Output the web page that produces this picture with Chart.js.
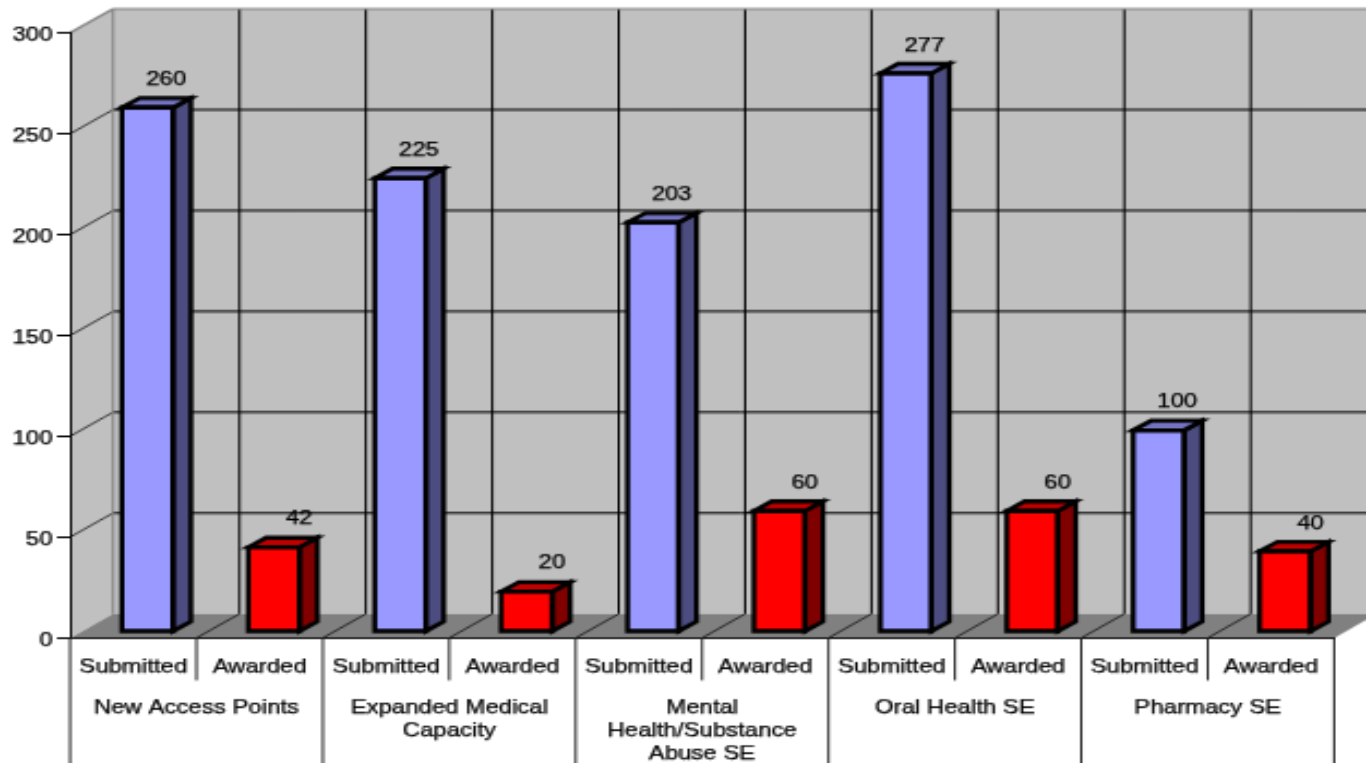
<!DOCTYPE html>
<html>
<head>
<meta charset="utf-8">
<title>Applications submitted and awarded</title>
<script src="https://cdn.jsdelivr.net/npm/chart.js@4"></script>
<style>
  html, body { margin: 0; padding: 0; background: #fff; width: 1366px; height: 763px; overflow: hidden; }
  #wrap { width: 1366px; height: 763px; overflow: hidden; }
  /* the reference is a small picture blown up unevenly, so draw small and stretch */
  #chart { display: block; transform-origin: 0 0; transform: scale(2.182, 1.770); }
</style>
</head>
<body>
<div id="wrap"><canvas id="chart" width="626" height="431"></canvas></div>
<script>
const groups = ['New Access Points', ['Expanded Medical', 'Capacity'], ['Mental', 'Health/Substance', 'Abuse SE'], 'Oral Health SE', 'Pharmacy SE'];
const seriesNames = ['Submitted', 'Awarded'];
const submitted = [260, 225, 203, 277, 100];
const awarded = [42, 20, 60, 60, 40];
const yTicks = [0, 50, 100, 150, 200, 250, 300];

const labels = groups.flatMap(() => seriesNames);
const values = submitted.flatMap((v, i) => [v, awarded[i]]);

const COLORS = {
  Submitted: { front: '#9999ff', side: '#4c4c80', top: '#7373bf' },
  Awarded: { front: '#ff0000', side: '#800000', top: '#bf0000' }
};
const FONT = { family: '"Liberation Sans", Arial, sans-serif', size: 11 };
const TEXT_STROKE = 0.25;               // the reference text is a little heavy
const DEPTH_X = 19.7, DEPTH_Y = 13.6;   // walls
const BAR_X = 6.5, BAR_Y = 3.4;         // bar front sits this far into the floor
const BAR_DX = 8.2, BAR_DY = 5.4;       // bar depth

function line(ctx, x1, y1, x2, y2, color, width) {
  ctx.strokeStyle = color;
  ctx.lineWidth = width;
  ctx.beginPath();
  ctx.moveTo(x1, y1);
  ctx.lineTo(x2, y2);
  ctx.stroke();
}

function poly(ctx, pts, fill) {
  ctx.fillStyle = fill;
  ctx.strokeStyle = '#000';
  ctx.lineWidth = 2.3;
  ctx.lineJoin = 'miter';
  ctx.beginPath();
  pts.forEach((p, i) => i ? ctx.lineTo(p[0], p[1]) : ctx.moveTo(p[0], p[1]));
  ctx.closePath();
  if (fill) ctx.fill();
  ctx.stroke();
}

const box3d = {
  id: 'box3d',
  beforeDraw(chart) {
    const ctx = chart.ctx, { x, y } = chart.scales;
    const l = x.left, r = x.right, t = y.getPixelForValue(300), b = y.getPixelForValue(0);
    const bx = l + DEPTH_X, far = r + DEPTH_X;
    const step = (r - l) / labels.length;
    ctx.save();
    // walls and floor
    ctx.fillStyle = '#c0c0c0';
    ctx.beginPath();
    ctx.moveTo(l, b); ctx.lineTo(l, t); ctx.lineTo(bx, t - DEPTH_Y);
    ctx.lineTo(far, t - DEPTH_Y); ctx.lineTo(far, b - DEPTH_Y); ctx.lineTo(bx, b - DEPTH_Y);
    ctx.closePath();
    ctx.fill();
    ctx.fillStyle = '#808080';
    ctx.beginPath();
    ctx.moveTo(l, b); ctx.lineTo(bx, b - DEPTH_Y); ctx.lineTo(far, b - DEPTH_Y); ctx.lineTo(r, b);
    ctx.closePath();
    ctx.fill();
    // grid on the walls
    yTicks.slice(1, -1).forEach(v => {
      const py = y.getPixelForValue(v);
      line(ctx, l, py, bx, py - DEPTH_Y, '#000', 0.7);
      line(ctx, bx, py - DEPTH_Y, far, py - DEPTH_Y, '#000', 1);
    });
    for (let i = 1; i < labels.length; i++) {
      const px = l + i * step;
      line(ctx, px, b, px + DEPTH_X, b - DEPTH_Y, '#000', 0.7);
      line(ctx, px + DEPTH_X, t - DEPTH_Y, px + DEPTH_X, b - DEPTH_Y, '#000', 1);
    }
    line(ctx, bx, t - DEPTH_Y, bx, b - DEPTH_Y, '#808080', 1);
    line(ctx, bx, t - DEPTH_Y, far, t - DEPTH_Y, '#808080', 1.2);
    line(ctx, l, t, bx, t - DEPTH_Y, '#808080', 1.2);
    ctx.restore();
  },
  beforeDatasetsDraw(chart) {
    chart.ctx.save();
    chart.ctx.translate(BAR_X, -BAR_Y);
  },
  afterDatasetsDraw(chart) {
    const ctx = chart.ctx, { x } = chart.scales;
    ctx.restore();
    // outlines, top and side of every bar, then the value
    chart.getDatasetMeta(0).data.forEach((bar, i) => {
      const p = bar.getProps(['x', 'y', 'base', 'width']);
      const c = COLORS[labels[i]];
      const x0 = p.x - p.width / 2 + BAR_X, x1 = p.x + p.width / 2 + BAR_X;
      const y0 = p.y - BAR_Y, y1 = p.base - BAR_Y;
      poly(ctx, [[x1, y0], [x1 + BAR_DX, y0 - BAR_DY], [x1 + BAR_DX, y1 - BAR_DY], [x1, y1]], c.side);
      poly(ctx, [[x0, y0], [x0 + BAR_DX, y0 - BAR_DY], [x1 + BAR_DX, y0 - BAR_DY], [x1, y0]], c.top);
      poly(ctx, [[x0, y0], [x1, y0], [x1, y1], [x0, y1]], null);
      ctx.fillStyle = '#000';
      ctx.font = FONT.size + 'px ' + FONT.family;
      ctx.textAlign = 'right';
      ctx.textBaseline = 'middle';
      ctx.lineWidth = TEXT_STROKE;
      ctx.fillText(String(values[i]), x1 + BAR_DX - 2.2, y0 - 15.8);
      ctx.strokeText(String(values[i]), x1 + BAR_DX - 2.2, y0 - 15.8);
    });
    // separators under the axis, running off the bottom of the page
    const step = (x.right - x.left) / labels.length;
    const b = chart.scales.y.bottom;
    for (let i = 0; i <= labels.length; i++) {
      const px = x.left + i * step;
      line(ctx, px, b, px, i % 2 ? b + 24 : chart.height, '#222', 1);
    }
  }
};

new Chart(document.getElementById('chart'), {
  type: 'bar',
  data: {
    labels: labels,
    datasets: [{
      data: values,
      backgroundColor: labels.map(n => COLORS[n].front),
      borderWidth: 0,
      barThickness: 23.4
    }]
  },
  options: {
    responsive: false,
    devicePixelRatio: 1,
    animation: false,
    layout: { padding: { left: 0, top: 18.6, right: 14.6, bottom: 0 } },
    plugins: { legend: { display: false }, tooltip: { enabled: false } },
    scales: {
      y: {
        min: 0,
        max: 300,
        afterFit: s => { s.width = 32.1; },
        afterBuildTicks: s => { s.ticks = yTicks.map(v => ({ value: v })); },
        border: { display: true, color: '#000', width: 1 },
        grid: { drawOnChartArea: false, tickLength: 6, color: '#000' },
        ticks: { color: '#000', font: FONT, padding: 2, labelOffset: 1.5, textStrokeColor: '#000', textStrokeWidth: TEXT_STROKE }
      },
      x: {
        afterFit: s => { s.height = 24; },
        border: { display: true, color: '#111', width: 1 },
        grid: { display: false, drawTicks: false },
        ticks: { color: '#000', font: FONT, padding: 10.4, autoSkip: false, maxRotation: 0, textStrokeColor: '#000', textStrokeWidth: TEXT_STROKE }
      },
      x2: {
        type: 'category',
        labels: groups,
        position: 'bottom',
        offset: true,
        afterFit: s => { s.height = 46.6; },
        border: { display: false },
        grid: { display: false, drawTicks: false },
        ticks: { color: '#000', font: FONT, padding: 8.6, autoSkip: false, maxRotation: 0, textStrokeColor: '#000', textStrokeWidth: TEXT_STROKE }
      }
    }
  },
  plugins: [box3d]
});
</script>
</body>
</html>
